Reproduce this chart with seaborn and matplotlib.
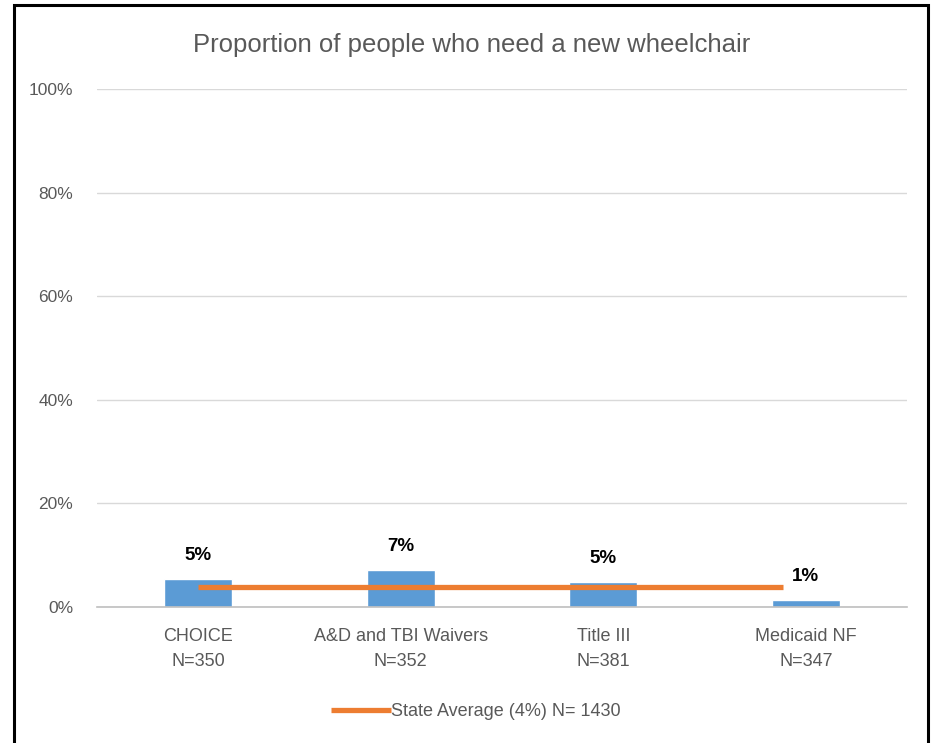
import pandas as pd
import seaborn as sns
import matplotlib.pyplot as plt
from matplotlib.patches import Rectangle

# Data
programs = ['CHOICE\nN=350', 'A&D and TBI Waivers\nN=352', 'Title III\nN=381', 'Medicaid NF\nN=347']
need_pct = [5.4, 7.1, 4.8, 1.3]
bar_labels = ['5%', '7%', '5%', '1%']
state_avg = [3.9, 3.9, 3.9, 3.9]
legend_label = 'State Average (4%) N= 1430'

df = pd.DataFrame({'program': programs, 'pct': need_pct})

sns.set_style('white')
plt.rcParams['font.family'] = ['Liberation Sans', 'DejaVu Sans']

fig = plt.figure(figsize=(9.37, 7.43), dpi=100)
ax = fig.add_axes([0.1035, 0.183, 0.8645, 0.697])

# Bars
sns.barplot(data=df, x='program', y='pct', color='#5B9BD5', width=0.335,
            saturation=1, ax=ax, zorder=2)
ax.set_ylim(0, 100)
ax.set_xlim(-0.5, 3.5)
ax.set_yticks(range(0, 101, 20))
ax.set_yticklabels([f'{v}%' for v in range(0, 101, 20)], color='#595959', fontsize=12.5)
ax.tick_params(axis='x', colors='#595959', labelsize=13, pad=15, length=0)
for t in ax.get_xticklabels():
    t.set_linespacing(1.6)
ax.tick_params(axis='y', length=0, pad=17)
ax.set_xlabel('')
ax.set_ylabel('')
ax.grid(axis='y', color='#D9D9D9', linewidth=1, zorder=0)
ax.set_axisbelow(True)
for s in ['top', 'right', 'left']:
    ax.spines[s].set_visible(False)
ax.spines['bottom'].set_color('#BFBFBF')
ax.spines['bottom'].set_linewidth(1.2)

# Value labels
for i, (v, lab) in enumerate(zip(need_pct, bar_labels)):
    ax.annotate(lab, (i, v), xytext=(0, 11), textcoords='offset points',
                ha='center', va='bottom', fontsize=13.5, fontweight='bold', color='black')

# State average line (secondary axis, as in the source chart)
ax2 = ax.twiny()
ax2.set_xlim(-0.518, 3.636)
line_df = pd.DataFrame({'idx': range(len(state_avg)), 'avg': state_avg})
sns.lineplot(data=line_df, x='idx', y='avg', color='#ED7D31', linewidth=3.8,
             ax=ax2, label=legend_label, solid_capstyle='butt', zorder=3)
ax2.set_ylim(0, 100)
ax2.axis('off')
ax2.get_legend().remove()

handles, labels = ax2.get_legend_handles_labels()
fig.legend(handles, labels, loc='center', bbox_to_anchor=(0.508, 0.042), frameon=False,
           fontsize=13, labelcolor='#595959', handlelength=3.3, handletextpad=0.0)

# Title
fig.text(0.503, 0.94, 'Proportion of people who need a new wheelchair', ha='center',
         va='center', fontsize=18.5, color='#595959')

# Outer frame
fig.patches.append(Rectangle((14 / 937, -0.05), (928 - 14) / 937, 1.05 - 5 / 743,
                             transform=fig.transFigure, fill=False, edgecolor='black',
                             linewidth=2.2))

fig.savefig('out.png', dpi=100)
